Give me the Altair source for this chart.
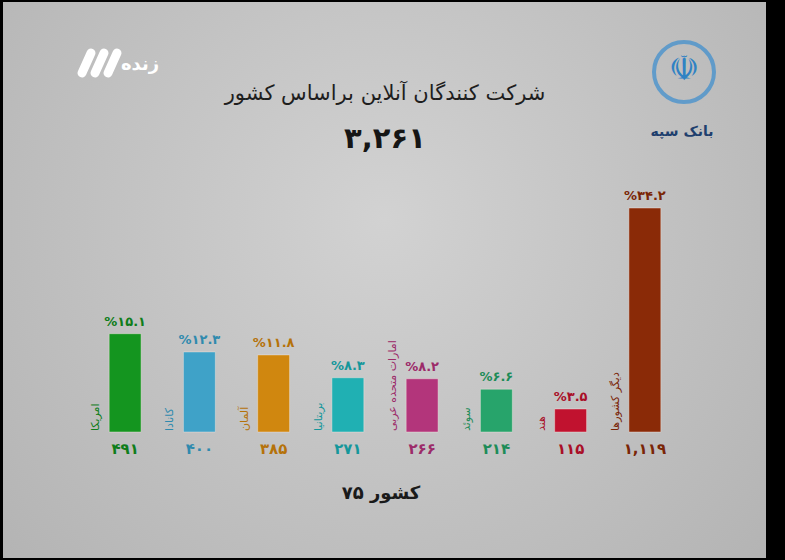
import altair as alt
import pandas as pd

# ---------------- data ----------------
countries = ["امریکا", "کانادا", "آلمان", "بریتانیا", "امارات متحده عربی", "سوئد", "هند", "دیگر کشورها"]
counts = [491, 400, 385, 271, 266, 214, 115, 1119]
percents = [15.1, 12.3, 11.8, 8.3, 8.2, 6.6, 3.5, 34.2]
bar_colors = ["#14951f", "#3fa2c8", "#d0870f", "#20b0b3", "#b3357b", "#27a46b", "#c1122f", "#8a2a07"]
label_colors = ["#0f7d1a", "#2f8aae", "#b5720a", "#15979b", "#9c2b69", "#1d8c58", "#a90f28", "#7a2506"]

title_text = "شرکت کنندگان آنلاین براساس کشور"
total_text = "۳,۲۶۱"
footer_text = "۷۵ کشور"
channel_text = "زنده"
bank_text = "بانک سپه"

FA = str.maketrans("0123456789", "۰۱۲۳۴۵۶۷۸۹")


def fa(s):
    return str(s).translate(FA)


df = pd.DataFrame({
    "country": countries,
    "count": counts,
    "pct": percents,
    "color": bar_colors,
    "lcolor": label_colors,
    "pct_label": ["%" + fa(f"{p:.1f}") for p in percents],
    "count_label": [fa(f"{c:,}") for c in counts],
})

FONT = "DejaVu Sans"

x_enc = alt.X("country:N", sort=countries, axis=None,
              scale=alt.Scale(domain=countries, range=[88, 682],
                              paddingInner=0.57, paddingOuter=0.285))
y_scale = alt.Scale(domain=[0, 1119], range=[432, 208], nice=False, zero=True)

base = alt.Chart(df)

# background panel with soft radial gradient
bg = alt.Chart(alt.Data(values=[{"a": 1}])).mark_rect(
    fill={
        "gradient": "radial",
        "x1": 0.5, "y1": 0.42, "x2": 0.5, "y2": 0.42,
        "r1": 0, "r2": 0.75,
        "stops": [
            {"offset": 0, "color": "#d2d2d2"},
            {"offset": 1, "color": "#b0b0b0"},
        ],
    }
).encode(x=alt.value(3), x2=alt.value(766), y=alt.value(2), y2=alt.value(558))

bars = base.mark_bar(stroke="#f3e9e2", strokeWidth=0.8, strokeOpacity=0.55).encode(
    x=x_enc,
    y=alt.Y("count:Q", scale=y_scale, axis=None),
    color=alt.Color("color:N", scale=None),
)

pct_text = base.mark_text(font=FONT, fontSize=13, fontWeight="bold",
                          baseline="bottom", dy=-5).encode(
    x=x_enc,
    y=alt.Y("count:Q", scale=y_scale, axis=None),
    text="pct_label:N",
    color=alt.Color("lcolor:N", scale=None),
)

count_text = base.mark_text(font=FONT, fontSize=15, fontWeight="bold",
                            baseline="middle", dy=17).encode(
    x=x_enc,
    y=alt.datum(0),
    text="count_label:N",
    color=alt.Color("lcolor:N", scale=None),
)

name_text = base.mark_text(font=FONT, fontSize=11, angle=270, align="left",
                           baseline="alphabetic", xOffset=-26, yOffset=-1).encode(
    x=x_enc,
    y=alt.datum(0),
    text="country:N",
    color=alt.Color("lcolor:N", scale=None),
)

one = alt.Data(values=[{"a": 1}])

title = alt.Chart(one).mark_text(font=FONT, fontSize=21, color="#1e1e1e",
                                 align="center", baseline="middle").encode(
    x=alt.value(385), y=alt.value(94), text=alt.value(title_text))

total = alt.Chart(one).mark_text(font=FONT, fontSize=29, fontWeight="bold", color="#151515",
                                 align="center", baseline="middle").encode(
    x=alt.value(385), y=alt.value(139), text=alt.value(total_text))

footer = alt.Chart(one).mark_text(font=FONT, fontSize=18, fontWeight="bold", color="#1a1a1a",
                                  align="center", baseline="middle").encode(
    x=alt.value(381), y=alt.value(494), text=alt.value(footer_text))

channel = alt.Chart(one).mark_text(font=FONT, fontSize=18, fontWeight="bold", color="white",
                                   align="center", baseline="middle").encode(
    x=alt.value(140), y=alt.value(65), text=alt.value(channel_text))

slashes = []
for k in range(3):
    slashes.append(
        alt.Chart(one).mark_rule(color="white", strokeWidth=9, strokeCap="round").encode(
            x=alt.value(82 + 13 * k), y=alt.value(73),
            x2=alt.value(91 + 13 * k), y2=alt.value(53))
    )

ring = alt.Chart(one).mark_point(shape="circle", filled=False, size=3600,
                                 stroke="#3a8dcf", strokeWidth=4).encode(
    x=alt.value(684), y=alt.value(72))

emblem = alt.Chart(one).mark_text(font=FONT, fontSize=34, color="#2f82c4",
                                  align="center", baseline="middle").encode(
    x=alt.value(684), y=alt.value(70), text=alt.value("☫"))

bank = alt.Chart(one).mark_text(font=FONT, fontSize=14, fontWeight="bold", color="#1f3f6e",
                                align="center", baseline="middle").encode(
    x=alt.value(682), y=alt.value(132), text=alt.value(bank_text))

chart = alt.layer(
    bg, bars, pct_text, count_text, name_text,
    title, total, footer, channel, *slashes, ring, emblem, bank,
).properties(
    width=785, height=560,
    autosize=alt.AutoSizeParams(type="none"),
    padding=0,
    background="black",
).configure_view(strokeWidth=0)

chart.save("out.html", embed_options={"renderer": "svg", "actions": False})
